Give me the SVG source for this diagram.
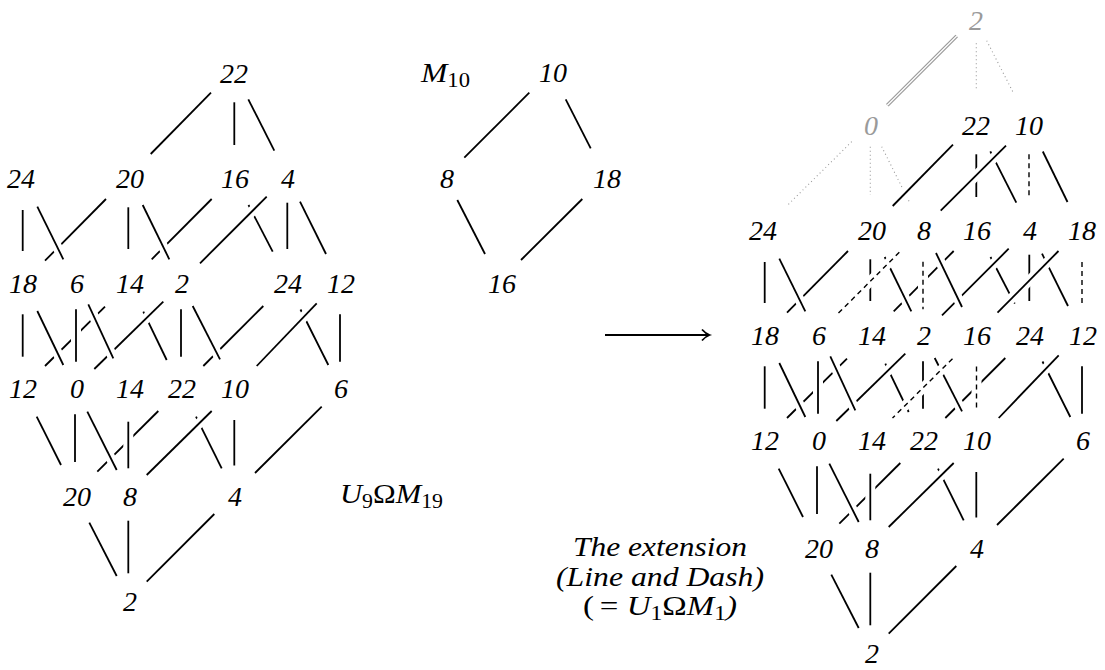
<svg xmlns="http://www.w3.org/2000/svg" xmlns:xlink="http://www.w3.org/1999/xlink" width="1105" height="670" viewBox="0 0 1105 670">
<style>
.w{stroke:#fff;stroke-width:10;fill:none}
.k{stroke:#000;stroke-width:1.8;fill:none}
.d{stroke:#000;stroke-width:1.4;stroke-dasharray:5 4;fill:none}
.g{stroke:#9a9a9a;stroke-width:1.1;stroke-dasharray:1 3;fill:none}
text{font-family:'Liberation Serif','DejaVu Serif',serif;font-size:28px;fill:#000}
.t text{font-style:italic;text-anchor:middle}
.gt{fill:#9a9a9a}
.i{font-style:italic}
</style>
<defs>
<g id="lat">
<line class="w" x1="211" y1="92.7" x2="150.7" y2="154"/><line class="k" x1="211" y1="92.7" x2="150.7" y2="154"/>
<line class="w" x1="234.3" y1="102.3" x2="234.3" y2="145"/><line class="k" x1="234.3" y1="102.3" x2="234.3" y2="145"/>
<line class="w" x1="248.3" y1="99.3" x2="274.3" y2="150.7"/><line class="k" x1="248.3" y1="99.3" x2="274.3" y2="150.7"/>
<line class="w" x1="22.7" y1="210" x2="22.7" y2="251"/><line class="k" x1="22.7" y1="210" x2="22.7" y2="251"/>
<line class="w" x1="106" y1="199" x2="45" y2="260.7"/><line class="k" x1="106" y1="199" x2="45" y2="260.7"/>
<line class="w" x1="37.3" y1="206.7" x2="63.3" y2="259.3"/><line class="k" x1="37.3" y1="206.7" x2="63.3" y2="259.3"/>
<line class="w" x1="128.3" y1="207.3" x2="128.3" y2="249"/><line class="k" x1="128.3" y1="207.3" x2="128.3" y2="249"/>
<line class="w" x1="211.7" y1="199" x2="151.7" y2="259.3"/><line class="k" x1="211.7" y1="199" x2="151.7" y2="259.3"/>
<line class="w" x1="142.7" y1="205" x2="169.3" y2="259.3"/><line class="k" x1="142.7" y1="205" x2="169.3" y2="259.3"/>
<line class="w" x1="248.5" y1="205" x2="272.7" y2="251.7"/><line class="k" x1="248.5" y1="205" x2="272.7" y2="251.7"/>
<line class="w" x1="266.7" y1="196.7" x2="200" y2="263.3"/><line class="k" x1="266.7" y1="196.7" x2="200" y2="263.3"/>
<line class="w" x1="287.3" y1="202.7" x2="287.3" y2="249"/><line class="k" x1="287.3" y1="202.7" x2="287.3" y2="249"/>
<line class="w" x1="300" y1="201.7" x2="326" y2="254"/><line class="k" x1="300" y1="201.7" x2="326" y2="254"/>
<line class="w" x1="22.7" y1="314.3" x2="22.7" y2="356.7"/><line class="k" x1="22.7" y1="314.3" x2="22.7" y2="356.7"/>
<line class="w" x1="105" y1="306.7" x2="45" y2="366"/><line class="k" x1="105" y1="306.7" x2="45" y2="366"/>
<line class="w" x1="37.3" y1="311" x2="63.3" y2="365"/><line class="k" x1="37.3" y1="311" x2="63.3" y2="365"/>
<line class="w" x1="76" y1="309.3" x2="76" y2="361.7"/><line class="k" x1="76" y1="309.3" x2="76" y2="361.7"/>
<line class="w" x1="143.3" y1="311.7" x2="166.7" y2="360"/><line class="k" x1="143.3" y1="311.7" x2="166.7" y2="360"/>
<line class="w" x1="163.3" y1="301.7" x2="94.3" y2="369"/><line class="k" x1="163.3" y1="301.7" x2="94.3" y2="369"/>
<line class="w" x1="88.3" y1="304.3" x2="113.3" y2="358.3"/><line class="k" x1="88.3" y1="304.3" x2="113.3" y2="358.3"/>
<line class="w" x1="181" y1="309.3" x2="181" y2="356.7"/><line class="k" x1="181" y1="309.3" x2="181" y2="356.7"/>
<line class="w" x1="263.3" y1="306" x2="203.3" y2="366"/><line class="k" x1="263.3" y1="306" x2="203.3" y2="366"/>
<line class="w" x1="192.7" y1="306" x2="220" y2="359.3"/><line class="k" x1="192.7" y1="306" x2="220" y2="359.3"/>
<line class="w" x1="300.5" y1="309.5" x2="328.3" y2="365"/><line class="k" x1="300.5" y1="309.5" x2="328.3" y2="365"/>
<line class="w" x1="316.7" y1="303.3" x2="256.7" y2="366"/><line class="k" x1="316.7" y1="303.3" x2="256.7" y2="366"/>
<line class="w" x1="340" y1="314.3" x2="340" y2="361.7"/><line class="k" x1="340" y1="314.3" x2="340" y2="361.7"/>
<line class="w" x1="36.7" y1="416.7" x2="61" y2="465"/><line class="k" x1="36.7" y1="416.7" x2="61" y2="465"/>
<line class="w" x1="75" y1="414.3" x2="75" y2="462"/><line class="k" x1="75" y1="414.3" x2="75" y2="462"/>
<line class="w" x1="158.3" y1="411" x2="97.3" y2="471.7"/><line class="k" x1="158.3" y1="411" x2="97.3" y2="471.7"/>
<line class="w" x1="87.3" y1="411.7" x2="116.7" y2="470"/><line class="k" x1="87.3" y1="411.7" x2="116.7" y2="470"/>
<line class="w" x1="128.3" y1="421.7" x2="128.3" y2="468.3"/><line class="k" x1="128.3" y1="421.7" x2="128.3" y2="468.3"/>
<line class="w" x1="196" y1="416.7" x2="221.7" y2="468.3"/><line class="k" x1="196" y1="416.7" x2="221.7" y2="468.3"/>
<line class="w" x1="211.7" y1="411" x2="146.7" y2="475"/><line class="k" x1="211.7" y1="411" x2="146.7" y2="475"/>
<line class="w" x1="234.3" y1="420" x2="234.3" y2="465.5"/><line class="k" x1="234.3" y1="420" x2="234.3" y2="465.5"/>
<line class="w" x1="321.7" y1="406.7" x2="255" y2="473"/><line class="k" x1="321.7" y1="406.7" x2="255" y2="473"/>
<line class="w" x1="89.3" y1="522.7" x2="116.7" y2="576"/><line class="k" x1="89.3" y1="522.7" x2="116.7" y2="576"/>
<line class="w" x1="128.3" y1="520.7" x2="128.3" y2="573.3"/><line class="k" x1="128.3" y1="520.7" x2="128.3" y2="573.3"/>
<line class="w" x1="214.3" y1="514" x2="146.7" y2="581.7"/><line class="k" x1="214.3" y1="514" x2="146.7" y2="581.7"/>
</g>
</defs>

<g id="connectors">
<use xlink:href="#lat" href="#lat"/>
<g id="m10-edges">
<line class="k" x1="529.3" y1="92.7" x2="464.3" y2="157.7"/>
<line class="k" x1="565.7" y1="99.3" x2="590.7" y2="148.3"/>
<line class="k" x1="457.3" y1="200" x2="485" y2="254"/>
<line class="k" x1="582.3" y1="199" x2="521" y2="260"/>
</g>
<g id="arrow">
<line class="k" x1="605" y1="335" x2="709" y2="335"/>
<path class="k" d="M702,329.5 Q705.5,333.5 709.5,335 Q705.5,336.5 702,340.5" stroke-width="1.5"/>
</g>
<g id="ext-edges">
<line x1="956.7" y1="36" x2="887.3" y2="105.3" stroke="#9a9a9a" stroke-width="3.6"/>
<line x1="956.7" y1="36" x2="887.3" y2="105.3" stroke="#fff" stroke-width="1.3"/>
<line class="g" x1="976.3" y1="43.3" x2="976.3" y2="90"/>
<line class="g" x1="986.7" y1="40.7" x2="1013.3" y2="92.7"/>
<line class="g" x1="851.7" y1="141.7" x2="786.7" y2="206"/>
<line class="g" x1="870.3" y1="146.7" x2="870.3" y2="195"/>
<line class="g" x1="881.7" y1="146.7" x2="910" y2="203.3"/>
<use xlink:href="#lat" href="#lat" transform="translate(742 52)"/>
<line class="w" x1="1006" y1="145.7" x2="940.7" y2="210.7"/><line class="k" x1="1006" y1="145.7" x2="940.7" y2="210.7"/>
<line class="w" x1="1042.8" y1="151.5" x2="1067.5" y2="202"/><line class="k" x1="1042.8" y1="151.5" x2="1067.5" y2="202"/>
<line class="w" x1="936" y1="253" x2="962" y2="307"/><line class="k" x1="936" y1="253" x2="962" y2="307"/>
<line class="w" x1="1058.5" y1="251" x2="997.5" y2="312.7"/><line class="k" x1="1058.5" y1="251" x2="997.5" y2="312.7"/>
<line class="w" x1="1029" y1="154.3" x2="1029" y2="197"/><line class="d" x1="1029" y1="154.3" x2="1029" y2="197"/>
<line class="w" x1="899.3" y1="252.3" x2="838.3" y2="313.3"/><line class="d" x1="899.3" y1="252.3" x2="838.3" y2="313.3"/>
<line class="w" x1="923" y1="261.7" x2="923" y2="309.3"/><line class="d" x1="923" y1="261.7" x2="923" y2="309.3"/>
<line class="w" x1="1082" y1="262" x2="1082" y2="303"/><line class="d" x1="1082" y1="262" x2="1082" y2="303"/>
<line class="w" x1="952.5" y1="358.7" x2="892.5" y2="418"/><line class="d" x1="952.5" y1="358.7" x2="892.5" y2="418"/>
<line class="w" x1="976.5" y1="366.5" x2="976.5" y2="408.5"/><line class="d" x1="976.5" y1="366.5" x2="976.5" y2="408.5"/>
</g>
</g>

<g id="left-nodes" class="t">
<g id="a22r0"><text x="234" y="82.5">22</text></g>
<g id="a24r1"><text x="21" y="188">24</text></g>
<g id="a20r1"><text x="130" y="188">20</text></g>
<g id="a16r1"><text x="235" y="188">16</text></g>
<g id="a4r1"><text x="288" y="188">4</text></g>
<g id="a18r2"><text x="23" y="293">18</text></g>
<g id="a6r2"><text x="77" y="293">6</text></g>
<g id="a14r2"><text x="130" y="293">14</text></g>
<g id="a2r2"><text x="182" y="293">2</text></g>
<g id="a24r2"><text x="288" y="293">24</text></g>
<g id="a12r2"><text x="341" y="293">12</text></g>
<g id="a12r3"><text x="23" y="398">12</text></g>
<g id="a0r3"><text x="77" y="398">0</text></g>
<g id="a14r3"><text x="130" y="398">14</text></g>
<g id="a22r3"><text x="182" y="398">22</text></g>
<g id="a10r3"><text x="235" y="398">10</text></g>
<g id="a6r3"><text x="341" y="398">6</text></g>
<g id="a20r4"><text x="77" y="505.5">20</text></g>
<g id="a8r4"><text x="130" y="505.5">8</text></g>
<g id="a4r4"><text x="235" y="505.5">4</text></g>
<g id="a2r5"><text x="130" y="611">2</text></g>
</g>

<g id="mid-nodes" class="t">
<g id="m10"><text x="553" y="81.5">10</text></g>
<g id="m8"><text x="447" y="188">8</text></g>
<g id="m18"><text x="607" y="188">18</text></g>
<g id="m16"><text x="502" y="293">16</text></g>
</g>

<g id="right-nodes" class="t">
<g id="b2r0"><text class="gt" x="976" y="29.5">2</text></g>
<g id="b0r1"><text class="gt" x="871" y="134.5">0</text></g>
<g id="b22r1"><text x="976" y="134.5">22</text></g>
<g id="b10r1"><text x="1029" y="134.5">10</text></g>
<g id="b24r2"><text x="763" y="240">24</text></g>
<g id="b20r2"><text x="872" y="240">20</text></g>
<g id="b8r2"><text x="924" y="240">8</text></g>
<g id="b16r2"><text x="977" y="240">16</text></g>
<g id="b4r2"><text x="1030" y="240">4</text></g>
<g id="b18r2"><text x="1082" y="240">18</text></g>
<g id="b18r3"><text x="765" y="345">18</text></g>
<g id="b6r3"><text x="819" y="345">6</text></g>
<g id="b14r3"><text x="872" y="345">14</text></g>
<g id="b2r3"><text x="924" y="345">2</text></g>
<g id="b16r3"><text x="977" y="345">16</text></g>
<g id="b24r3"><text x="1030" y="345">24</text></g>
<g id="b12r3"><text x="1083" y="345">12</text></g>
<g id="b12r4"><text x="765" y="450">12</text></g>
<g id="b0r4"><text x="819" y="450">0</text></g>
<g id="b14r4"><text x="872" y="450">14</text></g>
<g id="b22r4"><text x="924" y="450">22</text></g>
<g id="b10r4"><text x="977" y="450">10</text></g>
<g id="b6r4"><text x="1083" y="450">6</text></g>
<g id="b20r5"><text x="819" y="557.5">20</text></g>
<g id="b8r5"><text x="872" y="557.5">8</text></g>
<g id="b4r5"><text x="977" y="557.5">4</text></g>
<g id="b2r6"><text x="872" y="663">2</text></g>
</g>

<g id="captions">
<text x="421" y="81.5" textLength="49" lengthAdjust="spacingAndGlyphs"><tspan class="i">M</tspan><tspan font-size="20" dy="5">10</tspan></text>
<text x="340" y="503" textLength="103" lengthAdjust="spacingAndGlyphs"><tspan class="i">U</tspan><tspan font-size="20" dy="5">9</tspan><tspan dy="-5">Ω</tspan><tspan class="i">M</tspan><tspan font-size="20" dy="5">19</tspan></text>
<text class="i" x="660" y="556" text-anchor="middle" textLength="174" lengthAdjust="spacingAndGlyphs">The extension</text>
<text class="i" x="660" y="586" text-anchor="middle" textLength="208" lengthAdjust="spacingAndGlyphs">(Line and Dash)</text>
<text x="583" y="615" textLength="154" lengthAdjust="spacingAndGlyphs">(<tspan dx="5">=</tspan><tspan class="i" dx="7">U</tspan><tspan font-size="20" dy="5">1</tspan><tspan dy="-5">Ω</tspan><tspan class="i">M</tspan><tspan font-size="20" dy="5">1</tspan><tspan dy="-5" class="i">)</tspan></text>
</g>
</svg>
